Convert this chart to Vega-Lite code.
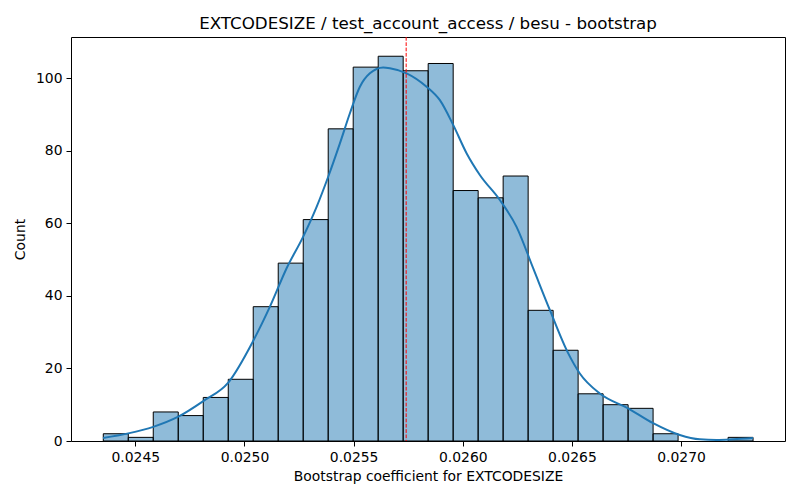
{
  "$schema": "https://vega.github.io/schema/vega-lite/v6.json",
  "width": 714,
  "height": 404,
  "autosize": {"type": "none"},
  "padding": {"left": 71, "top": 37, "right": 15, "bottom": 59},
  "title": {
    "text": "EXTCODESIZE / test_account_access / besu - bootstrap",
    "font": "DejaVu Sans",
    "fontSize": 16.7,
    "fontWeight": "normal",
    "color": "black",
    "baseline": "bottom",
    "offset": 5,
    "dy": 18
  },
  "datasets": {
    "bins": [
      {"bin_start": 0.0243535, "bin_end": 0.0244680, "count": 2},
      {"bin_start": 0.0244680, "bin_end": 0.0245824, "count": 1},
      {"bin_start": 0.0245824, "bin_end": 0.0246969, "count": 8},
      {"bin_start": 0.0246969, "bin_end": 0.0248114, "count": 7},
      {"bin_start": 0.0248114, "bin_end": 0.0249259, "count": 12},
      {"bin_start": 0.0249259, "bin_end": 0.0250403, "count": 17},
      {"bin_start": 0.0250403, "bin_end": 0.0251548, "count": 37},
      {"bin_start": 0.0251548, "bin_end": 0.0252693, "count": 49},
      {"bin_start": 0.0252693, "bin_end": 0.0253837, "count": 61},
      {"bin_start": 0.0253837, "bin_end": 0.0254982, "count": 86},
      {"bin_start": 0.0254982, "bin_end": 0.0256127, "count": 103},
      {"bin_start": 0.0256127, "bin_end": 0.0257271, "count": 106},
      {"bin_start": 0.0257271, "bin_end": 0.0258416, "count": 102},
      {"bin_start": 0.0258416, "bin_end": 0.0259561, "count": 104},
      {"bin_start": 0.0259561, "bin_end": 0.0260706, "count": 69},
      {"bin_start": 0.0260706, "bin_end": 0.0261850, "count": 67},
      {"bin_start": 0.0261850, "bin_end": 0.0262995, "count": 73},
      {"bin_start": 0.0262995, "bin_end": 0.0264140, "count": 36},
      {"bin_start": 0.0264140, "bin_end": 0.0265284, "count": 25},
      {"bin_start": 0.0265284, "bin_end": 0.0266429, "count": 13},
      {"bin_start": 0.0266429, "bin_end": 0.0267574, "count": 10},
      {"bin_start": 0.0267574, "bin_end": 0.0268718, "count": 9},
      {"bin_start": 0.0268718, "bin_end": 0.0269863, "count": 2},
      {"bin_start": 0.0272153, "bin_end": 0.0273297, "count": 1}
    ],
    "kde": [
      {"x": 0.0243521, "density": 0.8},
      {"x": 0.0244679, "density": 2.1},
      {"x": 0.0245824, "density": 3.9},
      {"x": 0.0246969, "density": 6.7},
      {"x": 0.0248114, "density": 11.0},
      {"x": 0.0249258, "density": 16.1},
      {"x": 0.0250403, "density": 27.6},
      {"x": 0.0251168, "density": 37.0},
      {"x": 0.0251932, "density": 47.6},
      {"x": 0.0252692, "density": 56.3},
      {"x": 0.0253306, "density": 64.5},
      {"x": 0.0253837, "density": 72.8},
      {"x": 0.0254373, "density": 82.0},
      {"x": 0.0254831, "density": 90.3},
      {"x": 0.0255289, "density": 97.6},
      {"x": 0.0255746, "density": 101.3},
      {"x": 0.0256355, "density": 102.9},
      {"x": 0.0256662, "density": 102.7},
      {"x": 0.0257427, "density": 101.3},
      {"x": 0.0258343, "density": 97.6},
      {"x": 0.0258952, "density": 93.9},
      {"x": 0.0259561, "density": 87.1},
      {"x": 0.0260174, "density": 79.3},
      {"x": 0.0260783, "density": 73.3},
      {"x": 0.0261699, "density": 66.4},
      {"x": 0.0262464, "density": 59.0},
      {"x": 0.0263224, "density": 47.6},
      {"x": 0.0263988, "density": 36.1},
      {"x": 0.0264826, "density": 24.2},
      {"x": 0.0265362, "density": 18.6},
      {"x": 0.0266278, "density": 13.1},
      {"x": 0.0267574, "density": 9.0},
      {"x": 0.0268718, "density": 4.9},
      {"x": 0.0269941, "density": 1.65},
      {"x": 0.0270857, "density": 0.45},
      {"x": 0.0271621, "density": 0.28},
      {"x": 0.0272381, "density": 0.45},
      {"x": 0.0273297, "density": 0.8}
    ],
    "mean": [{"coef": 0.0257408}]
  },
  "layer": [
    {
      "data": {"name": "bins"},
      "mark": {
        "type": "rect",
        "fill": "#1f77b4",
        "fillOpacity": 0.5,
        "stroke": "black",
        "strokeWidth": 1
      },
      "encoding": {
        "x": {
          "field": "bin_start",
          "type": "quantitative",
          "scale": {"domain": [0.0242056, 0.027476], "nice": false, "zero": false},
          "title": "Bootstrap coefficient for EXTCODESIZE",
          "axis": {
            "values": [0.0245, 0.025, 0.0255, 0.026, 0.0265, 0.027],
            "format": ".4f"
          }
        },
        "x2": {"field": "bin_end"},
        "y": {
          "field": "count",
          "type": "quantitative",
          "scale": {"domain": [0, 111.3], "nice": false},
          "title": "Count",
          "axis": {"values": [0, 20, 40, 60, 80, 100]}
        },
        "y2": {"datum": 0}
      }
    },
    {
      "data": {"name": "kde"},
      "mark": {
        "type": "line",
        "color": "#1f77b4",
        "strokeWidth": 2,
        "interpolate": "monotone"
      },
      "encoding": {
        "x": {"field": "x", "type": "quantitative"},
        "y": {"field": "density", "type": "quantitative"}
      }
    },
    {
      "data": {"name": "mean"},
      "mark": {
        "type": "rule",
        "color": "red",
        "strokeWidth": 1,
        "strokeDash": [3.7, 1.6]
      },
      "encoding": {
        "x": {"field": "coef", "type": "quantitative"}
      }
    }
  ],
  "config": {
    "font": "DejaVu Sans",
    "view": {"stroke": "black", "strokeWidth": 1},
    "axis": {
      "grid": false,
      "domain": false,
      "tickColor": "black",
      "tickSize": 5,
      "tickWidth": 1,
      "labelFont": "DejaVu Sans",
      "labelFontSize": 13.9,
      "labelColor": "black",
      "labelPadding": 4,
      "titleFont": "DejaVu Sans",
      "titleFontSize": 13.9,
      "titleFontWeight": "normal",
      "titleColor": "black"
    },
    "axisX": {"titlePadding": 6},
    "axisY": {"titlePadding": 8}
  }
}
